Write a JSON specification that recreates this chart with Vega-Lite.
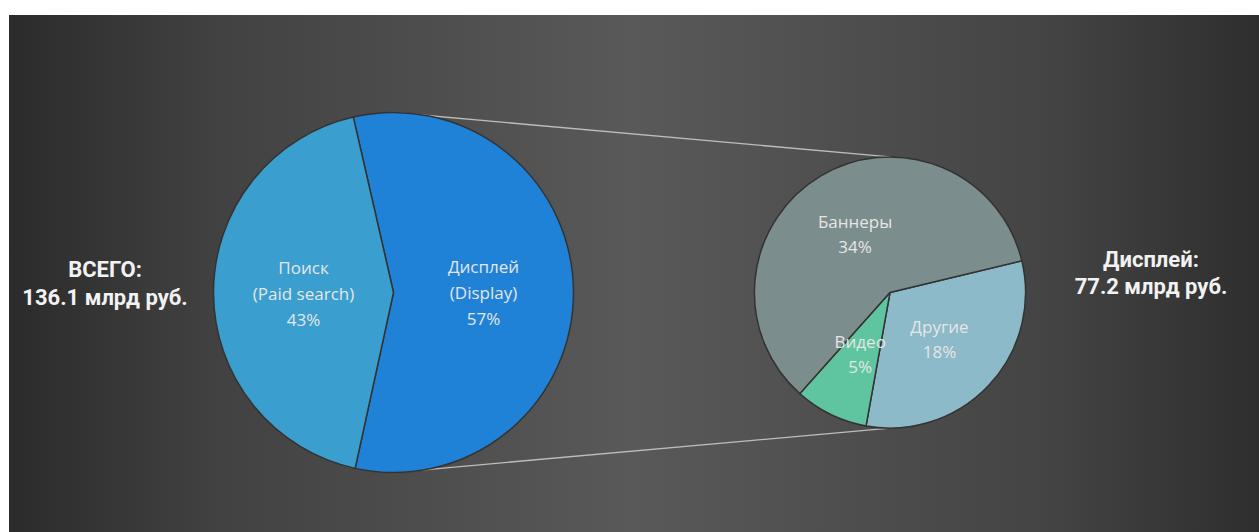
{
  "$schema": "https://vega.github.io/schema/vega-lite/v6.json",
  "width": 1250,
  "height": 517,
  "autosize": {"type": "none"},
  "padding": {"left": 9, "top": 15, "right": 0, "bottom": 0},
  "background": "white",
  "config": {"view": {"stroke": null}, "font": "Roboto"},
  "datasets": {
    "slices": [
      {"pie": "Всего", "cat": "Дисплей", "label": ["Дисплей", "(Display)", "57%"], "value": 57, "total": 136.1, "ord": 1},
      {"pie": "Всего", "cat": "Поиск", "label": ["Поиск", "(Paid search)", "43%"], "value": 43, "total": 136.1, "ord": 2},
      {"pie": "Дисплей", "cat": "Другие", "label": ["Другие", "18%"], "value": 18, "total": 77.2, "ord": 1},
      {"pie": "Дисплей", "cat": "Видео", "label": ["Видео", "5%"], "value": 5, "total": 77.2, "ord": 2},
      {"pie": "Дисплей", "cat": "Баннеры", "label": ["Баннеры", "34%"], "value": 34, "total": 77.2, "ord": 3}
    ],
    "connectors": [
      {"pie": "Всего", "side": "top", "edge": 136.1},
      {"pie": "Дисплей", "side": "top", "edge": 77.2},
      {"pie": "Всего", "side": "bottom", "edge": -136.1},
      {"pie": "Дисплей", "side": "bottom", "edge": -77.2}
    ],
    "totals": [
      {"pie": "ВСЕГО:", "label": ["ВСЕГО:", "136.1 млрд руб."]},
      {"pie": "Дисплей:", "label": ["Дисплей:", "77.2 млрд руб."]}
    ]
  },
  "layer": [
    {
      "data": {"values": [{}]},
      "mark": {
        "type": "rect",
        "fill": {
          "gradient": "linear", "x1": 0, "y1": 0, "x2": 1, "y2": 0,
          "stops": [
            {"offset": 0, "color": "#2b2b2b"},
            {"offset": 0.17, "color": "#424242"},
            {"offset": 0.5, "color": "#595959"},
            {"offset": 0.83, "color": "#444444"},
            {"offset": 1, "color": "#2e2e2e"}
          ]
        }
      },
      "encoding": {}
    },
    {
      "data": {"name": "connectors"},
      "mark": {"type": "line", "stroke": "#bdbdbd", "strokeWidth": 1.3},
      "encoding": {
        "x": {"field": "pie", "type": "nominal", "axis": null,
              "scale": {"type": "point", "domain": ["Всего", "Дисплей"], "range": [384.5, 881], "padding": 0}},
        "y": {"field": "edge", "type": "quantitative", "axis": null,
              "scale": {"type": "sqrt", "domain": [-240.9, 323.5], "zero": false, "nice": false}},
        "detail": {"field": "side"}
      }
    },
    {
      "data": {"name": "slices"},
      "transform": [{"filter": "datum.pie === 'Всего'"}],
      "encoding": {
        "x": {"field": "pie", "type": "nominal", "axis": null,
              "scale": {"type": "point", "domain": ["Всего", "Дисплей"], "range": [384.5, 881], "padding": 0}},
        "y": {"datum": 0, "type": "quantitative", "axis": null,
              "scale": {"type": "sqrt", "domain": [-240.9, 323.5], "zero": false, "nice": false}},
        "theta": {"field": "value", "type": "quantitative", "stack": true, "scale": {"range": [-0.225, 6.058]}},
        "order": {"field": "ord", "type": "quantitative"}
      },
      "layer": [
        {
          "mark": {"type": "arc", "stroke": "#333333", "strokeWidth": 1.5},
          "encoding": {
            "color": {"field": "cat", "type": "nominal", "legend": null,
                      "scale": {"domain": ["Дисплей", "Поиск", "Другие", "Видео", "Баннеры"], "range": ["#1f82d6", "#3a9fcf", "#8cbac8", "#5fc5a0", "#7b8d8d"]}},
            "radius": {"field": "total", "type": "quantitative", "scale": {"type": "sqrt", "domain": [0, 136.1], "range": [0, 180]}}
          }
        },
        {
          "mark": {"type": "text", "font": "Open Sans", "radius": 90, "fontSize": 17, "lineHeight": 26, "fill": "#e6e6e6", "align": "center", "baseline": "middle", "dy": -24},
          "encoding": {"text": {"field": "label"}, "detail": {"field": "cat"}}
        }
      ]
    },
    {
      "data": {"name": "slices"},
      "transform": [{"filter": "datum.pie === 'Дисплей'"}],
      "encoding": {
        "x": {"field": "pie", "type": "nominal", "axis": null,
              "scale": {"type": "point", "domain": ["Всего", "Дисплей"], "range": [384.5, 881], "padding": 0}},
        "y": {"datum": 0, "type": "quantitative", "axis": null,
              "scale": {"type": "sqrt", "domain": [-240.9, 323.5], "zero": false, "nice": false}},
        "theta": {"field": "value", "type": "quantitative", "stack": true, "scale": {"range": [1.335, 7.618]}},
        "order": {"field": "ord", "type": "quantitative"}
      },
      "layer": [
        {
          "mark": {"type": "arc", "stroke": "#333333", "strokeWidth": 1.5},
          "encoding": {
            "color": {"field": "cat", "type": "nominal", "legend": null},
            "radius": {"field": "total", "type": "quantitative"}
          }
        },
        {
          "mark": {"type": "text", "font": "Open Sans", "radius": 68, "fontSize": 17, "lineHeight": 25, "fill": "#e6e6e6", "align": "center", "baseline": "middle", "dy": -11},
          "encoding": {"text": {"field": "label"}, "detail": {"field": "cat"}}
        }
      ]
    },
    {
      "data": {"name": "totals"},
      "transform": [{"filter": "datum.pie === 'ВСЕГО:'"}],
      "mark": {"type": "text", "fontSize": 22, "fontWeight": "bold", "lineHeight": 28, "fill": "#f2f2f2", "align": "center", "baseline": "middle", "dy": -23},
      "encoding": {
        "x": {"field": "pie", "type": "nominal", "axis": null,
              "scale": {"type": "point", "domain": ["ВСЕГО:", "Дисплей:"], "range": [96, 1142], "padding": 0}},
        "y": {"datum": 0, "type": "quantitative", "axis": null,
              "scale": {"type": "sqrt", "domain": [-240.9, 323.5], "zero": false, "nice": false}},
        "text": {"field": "label"}
      }
    },
    {
      "data": {"name": "totals"},
      "transform": [{"filter": "datum.pie === 'Дисплей:'"}],
      "mark": {"type": "text", "fontSize": 22, "fontWeight": "bold", "lineHeight": 27, "fill": "#f2f2f2", "align": "center", "baseline": "middle", "dy": -33},
      "encoding": {
        "x": {"field": "pie", "type": "nominal", "axis": null,
              "scale": {"type": "point", "domain": ["ВСЕГО:", "Дисплей:"], "range": [96, 1142], "padding": 0}},
        "y": {"datum": 0, "type": "quantitative", "axis": null,
              "scale": {"type": "sqrt", "domain": [-240.9, 323.5], "zero": false, "nice": false}},
        "text": {"field": "label"}
      }
    }
  ],
  "resolve": {"scale": {"theta": "independent", "x": "independent"}}
}
